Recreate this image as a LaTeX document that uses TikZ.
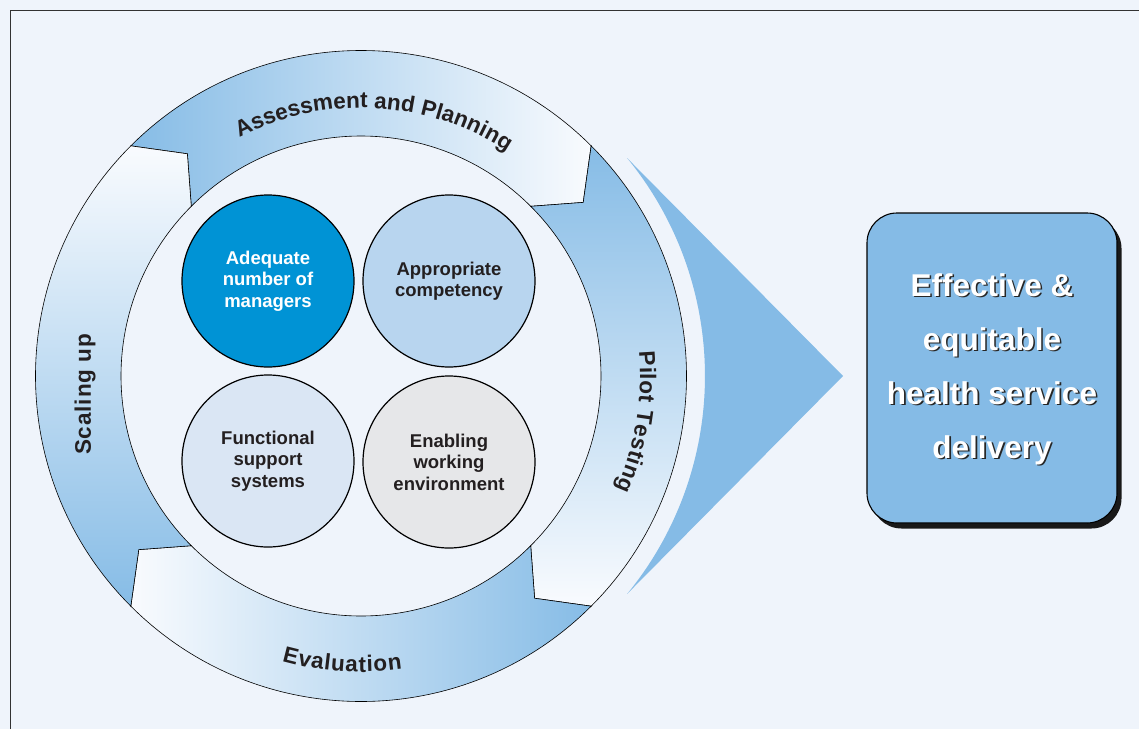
\documentclass[tikz,border=0pt]{standalone}
\usepackage{fontspec}
\setmainfont{Liberation Sans}
\usetikzlibrary{decorations.text}
\definecolor{bg}{RGB}{239,244,251}
\definecolor{ringdark}{RGB}{134,188,230}
\definecolor{ringlight}{RGB}{249,251,254}
\definecolor{boxblue}{RGB}{133,187,230}
\definecolor{cone}{RGB}{0,147,213}
\definecolor{ctwo}{RGB}{184,213,239}
\definecolor{cthree}{RGB}{218,230,244}
\definecolor{cfour}{RGB}{230,231,233}
\definecolor{txt}{RGB}{35,31,32}
\definecolor{framecol}{RGB}{50,50,50}
\newcommand\ringfont{\fontsize{22.5}{26}\selectfont\bfseries}
\newcommand\bubblefont{\fontsize{18.5}{21.5}\selectfont\bfseries}
\newcommand\boxfont{\fontsize{31.5}{54}\selectfont\bfseries}
\begin{document}
\begin{tikzpicture}[x=1pt,y=1pt,
  seg/.style={draw=black, line width=0.6pt},
  bubble/.style={circle, draw=black, line width=1.2pt, minimum size=172pt, inner sep=0pt, align=center, font=\bubblefont, text=txt},
  ringlabel/.style={decorate, decoration={text along path, text align=fit to path, text color=txt}},
  boxtxt/.style={font=\boxfont, align=center, inner sep=0pt}
]
\useasboundingbox (-361,-353) rectangle (778,376);
\fill[bg] (-361,-353) rectangle (778,376);
\draw[framecol, line width=1pt] (-350,-353) -- (-350,365) -- (778,365);

% ring segments
\draw[seg, left color=ringdark, right color=ringlight]
  (135:325.5) arc[start angle=135, end angle=45, radius=325.5] -- (38:282) -- (45:240)
  arc[start angle=45, end angle=135, radius=240] -- (128:282) -- cycle;
\draw[seg, top color=ringdark, bottom color=ringlight]
  (45:325.5) arc[start angle=45, end angle=-45, radius=325.5] -- (-52:282) -- (-45:240)
  arc[start angle=-45, end angle=45, radius=240] -- (38:282) -- cycle;
\draw[seg, left color=ringlight, right color=ringdark]
  (-45:325.5) arc[start angle=-45, end angle=-135, radius=325.5] -- (-142:282) -- (-135:240)
  arc[start angle=-135, end angle=-45, radius=240] -- (-52:282) -- cycle;
\draw[seg, top color=ringlight, bottom color=ringdark]
  (-135:325.5) arc[start angle=-135, end angle=-225, radius=325.5] -- (-232:282) -- (-225:240)
  arc[start angle=-225, end angle=-135, radius=240] -- (-142:282) -- cycle;

% ring labels
\path[ringlabel, decoration={text={|\ringfont|Assessment and Planning}}]
  (117:268) arc[start angle=117, end angle=57, radius=268];
\path[ringlabel, decoration={text={|\ringfont|Pilot Testing}}]
  (5:279) arc[start angle=5, end angle=-24, radius=279];
\path[ringlabel, decoration={text={|\ringfont|Evaluation}}]
  (-105.5:296) arc[start angle=-105.5, end angle=-82, radius=296];
\node[font=\ringfont\addfontfeature{LetterSpace=4}, text=txt, rotate=90, inner sep=0pt] (scal) at (-276,-18.5) {Scaling up};

% four bubbles
\node[bubble, fill=cone, text=white] (b1) at (-93,95) {Adequate\\number of\\managers};
\node[bubble, fill=ctwo] (b2) at (88,95) {Appropriate\\competency};
\node[bubble, fill=cthree] (b3) at (-93,-85) {Functional\\support\\systems};
\node[bubble, fill=cfour] (b4) at (88,-86) {Enabling\\working\\environment};

% pointer triangle
\fill[boxblue] (482,0) -- (39.3:344) arc[start angle=39.3, end angle=-39.3, radius=344] -- cycle;

% outcome box
\fill[black!90, rounded corners=30pt] (510.5,157.5) rectangle (760.5,-152.5);
\draw[black, line width=1.1pt, fill=boxblue, rounded corners=30pt] (506,163) rectangle (756,-147);
\node[boxtxt, text=black!85] (outsh) at (632.6,5.4) {Effective \&\\equitable\\health service\\delivery};
\node[boxtxt, text=white] (out) at (631,7) {Effective \&\\equitable\\health service\\delivery};
\end{tikzpicture}
\end{document}
